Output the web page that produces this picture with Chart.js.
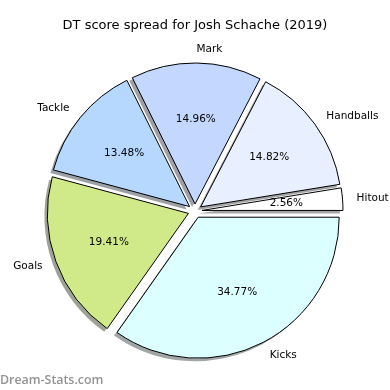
<!DOCTYPE html>
<html><head><meta charset="utf-8">
<script src="https://cdn.jsdelivr.net/npm/chart.js@4/dist/chart.umd.min.js"></script>
<style>html,body{margin:0;padding:0;background:#fff}canvas{display:block}</style>
</head><body>
<canvas id="c" width="390" height="390"></canvas>
<script>
const chartTitle = 'DT score spread for Josh Schache (2019)';
const categories = ['Kicks', 'Goals', 'Tackle', 'Mark', 'Handballs', 'Hitout'];
const percentages = [34.77, 19.41, 13.48, 14.96, 14.82, 2.56];
const sliceColors = ['#dcffff', '#d0ea8a', '#b6d8ff', '#c4d8ff', '#e8f0ff', '#ffffff'];
const watermark = 'Dream-Stats.com';

const EXPLODE = 7, R = 141, SHADOW = 3;
const FONT = '"DejaVu Sans", sans-serif';

function midAngle(a) { return (a.startAngle + a.endAngle) / 2; }
function shadowColor(hex) {
  const n = parseInt(hex.slice(1), 16);
  const r = (n >> 16) & 255, g = (n >> 8) & 255, b = n & 255;
  return `rgba(${Math.round(r * 0.3)},${Math.round(g * 0.3)},${Math.round(b * 0.3)},0.5)`;
}

const piePlugin = {
  id: 'mplpie',
  afterDatasetsUpdate(chart) {
    chart.getDatasetMeta(0).data.forEach(a => {
      const m = midAngle(a);
      a.x += Math.cos(m) * EXPLODE;
      a.y += Math.sin(m) * EXPLODE;
    });
  },
  beforeDatasetsDraw(chart) {
    const ctx = chart.ctx;
    ctx.save();
    chart.getDatasetMeta(0).data.forEach((a, i) => {
      const x = a.x - SHADOW, y = a.y + SHADOW;
      ctx.beginPath();
      ctx.moveTo(x, y);
      ctx.arc(x, y, a.outerRadius, a.startAngle, a.endAngle);
      ctx.closePath();
      ctx.fillStyle = shadowColor(sliceColors[i]);
      ctx.fill();
    });
    ctx.restore();
  },
  afterDraw(chart) {
    const ctx = chart.ctx;
    ctx.save();
    ctx.fillStyle = '#000';
    ctx.textAlign = 'center';
    ctx.textBaseline = 'middle';
    ctx.font = `13px ${FONT}`;
    ctx.fillText(chartTitle, 195, 26);
    ctx.font = `10.5px ${FONT}`;
    chart.getDatasetMeta(0).data.forEach((a, i) => {
      const m = midAngle(a);
      const r = a.outerRadius;
      const px = a.x + Math.cos(m) * r * 0.6, py = a.y + Math.sin(m) * r * 0.6;
      ctx.textAlign = 'center';
      ctx.fillText(percentages[i].toFixed(2) + '%', px, py);
      const lx = a.x + Math.cos(m) * r * 1.1, ly = a.y + Math.sin(m) * r * 1.1;
      ctx.textAlign = Math.cos(m) > 0 ? 'left' : 'right';
      ctx.fillText(categories[i], lx, ly);
    });
    ctx.fillStyle = '#939393';
    ctx.textAlign = 'left';
    ctx.textBaseline = 'alphabetic';
    ctx.font = `600 12.4px "Open Sans", sans-serif`;
    ctx.fillText(watermark, 0, 384);
    ctx.restore();
  }
};

new Chart(document.getElementById('c'), {
  type: 'pie',
  data: {
    labels: categories,
    datasets: [{
      data: percentages,
      backgroundColor: sliceColors,
      borderColor: '#000',
      borderWidth: 1,
      radius: R
    }]
  },
  options: {
    responsive: false,
    animation: false,
    events: [],
    rotation: 90,
    radius: R,
    layout: { padding: { left: 1, right: 1, top: 32, bottom: 0 } },
    plugins: { legend: { display: false }, title: { display: false }, tooltip: { enabled: false } }
  },
  plugins: [piePlugin]
});
</script>
</body></html>
